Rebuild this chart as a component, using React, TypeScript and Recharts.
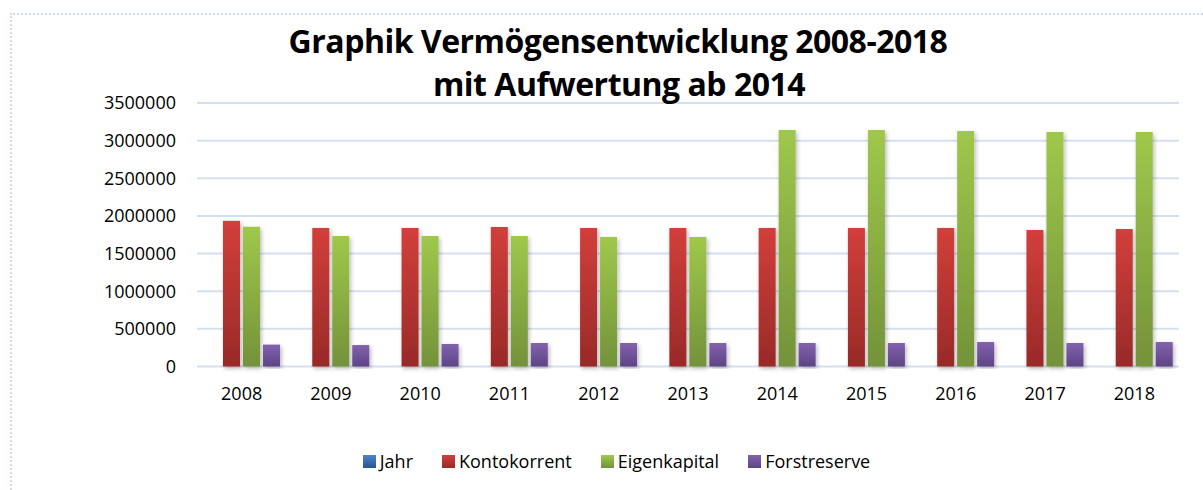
import React from 'react';
import { BarChart, Bar, XAxis, YAxis, CartesianGrid, Legend } from 'recharts';

const years = ['2008', '2009', '2010', '2011', '2012', '2013', '2014', '2015', '2016', '2017', '2018'];
const jahr = [2008, 2009, 2010, 2011, 2012, 2013, 2014, 2015, 2016, 2017, 2018];
const kontokorrent = [1935000, 1840000, 1840000, 1853000, 1840000, 1840000, 1840000, 1840000, 1840000, 1813000, 1826000];
const eigenkapital = [1856000, 1733000, 1733000, 1733000, 1720000, 1720000, 3141000, 3141000, 3128000, 3115000, 3115000];
const forstreserve = [291000, 285000, 299000, 312000, 312000, 312000, 312000, 312000, 325000, 312000, 325000];
const yTicks = [0, 500000, 1000000, 1500000, 2000000, 2500000, 3000000, 3500000];

const data = years.map((y, i) => ({
  year: y,
  jahr: jahr[i],
  kontokorrent: kontokorrent[i],
  eigenkapital: eigenkapital[i],
  forstreserve: forstreserve[i],
}));

const SERIES = [
  { key: 'jahr', name: 'Jahr', top: '#4a84d0', bottom: '#2c5591' },
  { key: 'kontokorrent', name: 'Kontokorrent', top: '#d23f3b', bottom: '#982a28' },
  { key: 'eigenkapital', name: 'Eigenkapital', top: '#9fc84b', bottom: '#74923a' },
  { key: 'forstreserve', name: 'Forstreserve', top: '#8262ae', bottom: '#5e4484' },
];

const FONT = '"Open Sans", sans-serif';

// bar with soft shadow, like the office chart
const ShadowBar = (props: any) => {
  const { x, y, width, height, fill } = props;
  if (!height || height < 0.5) return null;
  return <rect x={x} y={y} width={width} height={height} fill={fill} filter="url(#barShadow)" />;
};

// legend keeps the series order (recharts would sort it)
const renderLegend = () => (
  <div style={{ display: 'flex', justifyContent: 'center', paddingLeft: 54, paddingTop: 24, fontFamily: FONT, fontSize: 18, lineHeight: '21px', color: '#000' }}>
    {SERIES.map((s, i) => (
      <div key={s.key} style={{ display: 'flex', alignItems: 'center', marginLeft: i === 0 ? 0 : 29 }}>
        <span style={{ width: 13, height: 13, marginRight: 4, background: `linear-gradient(${s.top}, ${s.bottom})` }} />
        <span>{s.name}</span>
      </div>
    ))}
  </div>
);

export default function App() {
  return (
    <div style={{ position: 'absolute', left: 0, top: 0, width: 1203, height: 490, overflow: 'hidden', background: '#fff' }}>
      <style>{'body{margin:0}'}</style>
      <div style={{ position: 'absolute', left: 10, top: 13, width: 1300, height: 600, border: '2px dotted #cfdcee', boxSizing: 'border-box' }} />
      <BarChart
        width={1203}
        height={490}
        data={data}
        margin={{ top: 103, right: 24, left: 0, bottom: 0 }}
        barCategoryGap={6}
        barGap={3}
        style={{ position: 'absolute', left: 0, top: 0 }}
      >
        <defs>
          {SERIES.map((s) => (
            <linearGradient key={s.key} id={`grad-${s.key}`} x1="0" y1="0" x2="0" y2="1">
              <stop offset="0%" stopColor={s.top} />
              <stop offset="100%" stopColor={s.bottom} />
            </linearGradient>
          ))}
          <filter id="barShadow" x="-30%" y="-10%" width="160%" height="120%">
            <feDropShadow dx="1.5" dy="2" stdDeviation="2" floodColor="#000" floodOpacity="0.28" />
          </filter>
        </defs>
        <CartesianGrid vertical={false} stroke="#d5e0ef" strokeWidth={2} />
        <XAxis
          dataKey="year"
          axisLine={false}
          tickLine={false}
          tickSize={0}
          tickMargin={21}
          height={60}
          tick={{ fontSize: 18, fill: '#000', fontFamily: FONT }}
        />
        <YAxis
          width={197}
          domain={[0, 3500000]}
          ticks={yTicks}
          interval={0}
          axisLine={false}
          tickLine={false}
          tickSize={0}
          tickMargin={21}
          tick={{ fontSize: 18, fill: '#000', fontFamily: FONT }}
        />
        <Legend verticalAlign="bottom" content={renderLegend} wrapperStyle={{ height: 63.5 }} />
        {SERIES.map((s) => (
          <Bar key={s.key} dataKey={s.key} name={s.name} fill={`url(#grad-${s.key})`} shape={<ShadowBar />} isAnimationActive={false} />
        ))}
      </BarChart>
      <svg width={1203} height={120} style={{ position: 'absolute', left: 0, top: 0, pointerEvents: 'none' }}>
        <text x={618} y={53} textAnchor="middle" fontFamily={FONT} fontWeight={700} fontSize={32} letterSpacing={-0.5} fill="#000">
          Graphik Vermögensentwicklung 2008-2018
        </text>
        <text x={619} y={96} textAnchor="middle" fontFamily={FONT} fontWeight={700} fontSize={32} letterSpacing={-0.5} fill="#000">
          mit Aufwertung ab 2014
        </text>
      </svg>
    </div>
  );
}
